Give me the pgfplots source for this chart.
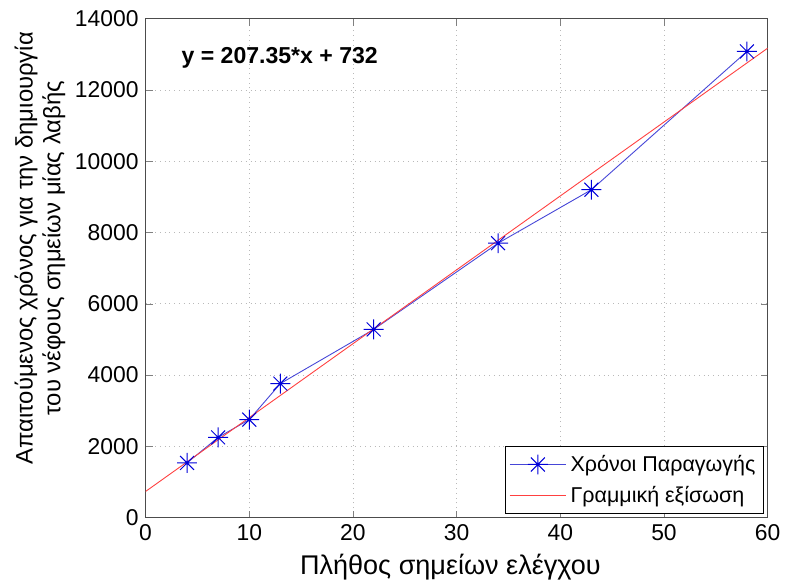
\documentclass[border=0pt]{standalone}
\usepackage{pgfplots}
\pgfplotsset{compat=1.18}
\usepackage{fontspec}
\setmainfont{Liberation Sans}
% MATLAB-like asterisk: plus and cross together
\pgfdeclareplotmark{mstar}{%
  \pgfpathmoveto{\pgfqpoint{0pt}{\pgfplotmarksize}}\pgfpathlineto{\pgfqpoint{0pt}{-\pgfplotmarksize}}%
  \pgfpathmoveto{\pgfqpoint{\pgfplotmarksize}{0pt}}\pgfpathlineto{\pgfqpoint{-\pgfplotmarksize}{0pt}}%
  \pgfpathmoveto{\pgfqpoint{.7\pgfplotmarksize}{.7\pgfplotmarksize}}\pgfpathlineto{\pgfqpoint{-.7\pgfplotmarksize}{-.7\pgfplotmarksize}}%
  \pgfpathmoveto{\pgfqpoint{-.7\pgfplotmarksize}{.7\pgfplotmarksize}}\pgfpathlineto{\pgfqpoint{.7\pgfplotmarksize}{-.7\pgfplotmarksize}}%
  \pgfusepathqstroke}
\definecolor{mblue}{RGB}{70,70,215}
\begin{document}
\begin{tikzpicture}
\begin{axis}[
    scale only axis,
    width=313pt, height=251pt,
    xmin=0, xmax=60, ymin=0, ymax=14000,
    xtick={0,10,...,60},
    ytick={0,2000,...,14000},
    /pgf/number format/assume math mode=true,
    /pgf/number format/1000 sep={},
    scaled y ticks=false,
    tick label style={font=\fontsize{11.5}{12}\selectfont},
    tick align=inside,
    xtick pos=both, ytick pos=both,
    major tick length=3.5pt,
    grid=major,
    major grid style={dotted, gray!55},
    axis line style={gray!60!black, line width=0.6pt},
    xlabel={Πλήθος σημείων ελέγχου},
    xlabel style={font=\fontsize{13.6}{16}\selectfont, at={(axis description cs:0.49,0)}, anchor=north, yshift=-15pt},
    ylabel={Απαιτούμενος χρόνος για την δημιουργία\\του νέφους σημείων μίας λαβής},
    ylabel style={font=\fontsize{12}{14}\selectfont, align=center, at={(ticklabel cs:0.54)}, anchor=near ticklabel, yshift=-2pt},
    legend style={at={(0.994,0.008)}, anchor=south east, font=\fontsize{10.8}{13}\selectfont, draw=black, line width=0.5pt, inner sep=2pt, row sep=2pt},
    legend cell align=left,
    legend image code/.code={%
      \draw[mark repeat=2, mark phase=2, #1] plot coordinates {(0cm,0cm) (0.5cm,0cm) (1cm,0cm)};},
]
\addplot[mblue, line width=0.45pt, mark=mstar, mark size=5pt, mark options={blue!85!black, line width=0.5pt}] coordinates {
    (4,1534) (7,2250) (10,2750) (13,3760) (22,5280) (34,7700) (43,9200) (58,13080)};
\addlegendentry{Χρόνοι Παραγωγής}
\addplot[red!75, line width=0.45pt] coordinates {
    (0,732) (60,13173)};
\addlegendentry{Γραμμική εξίσωση}
\node[anchor=west, font=\bfseries\fontsize{11.6}{13}\selectfont] at (axis cs:2.8,12900) {y = 207.35*x + 732};
\end{axis}
\path ([yshift=2pt]current bounding box.north);
\path ([xshift=-4pt]current bounding box.west);
\end{tikzpicture}
\end{document}
